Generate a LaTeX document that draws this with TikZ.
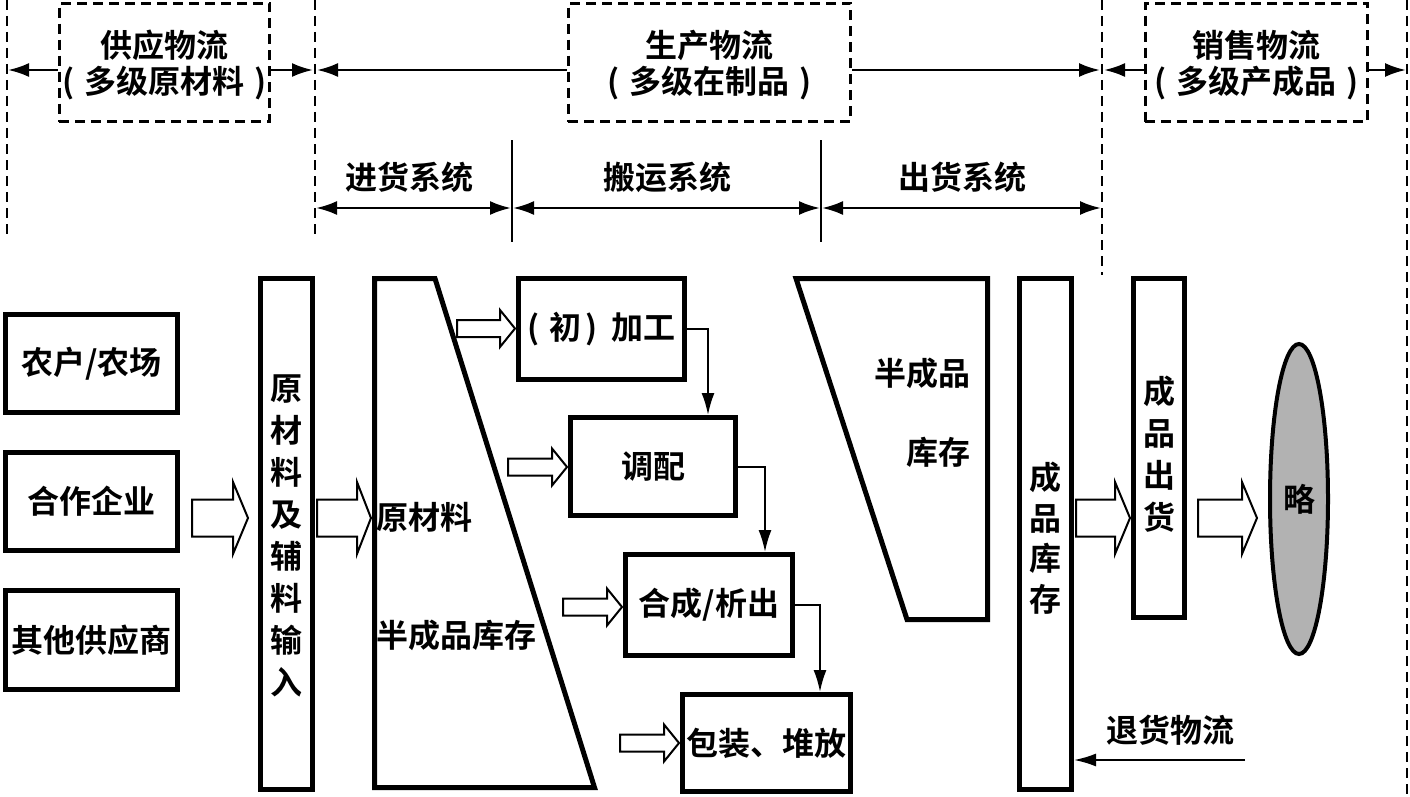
\documentclass[tikz,border=0pt]{standalone}
\usepackage{fontspec}
\newfontfamily\cjk{Noto Sans CJK SC}[BoldFont={Noto Sans CJK SC Bold}]
\usetikzlibrary{arrows.meta,calc,shapes.geometric}
\newcommand\blockarrow[6]{%
  \draw[hollow] (#1,#3-#4) -- (#2-#6,#3-#4) -- (#2-#6,#3-#5) -- (#2,#3) -- (#2-#6,#3+#5) -- (#2-#6,#3+#4) -- (#1,#3+#4) -- cycle;}
\begin{document}
\begin{tikzpicture}[x=1pt,y=-1pt,
  every node/.style={font=\cjk\bfseries\fontsize{32}{42}\selectfont, inner sep=0pt},
  box/.style={draw, line width=5pt, line join=miter},
  dbox/.style={draw, line width=2.8pt, dash pattern=on 10pt off 6pt},
  dline/.style={line width=2.8pt, dash pattern=on 10pt off 6pt},
  arr/.style={line width=2.5pt, -{Latex[length=21pt,width=14pt]}},
  dim/.style={line width=2.5pt, {Latex[length=21pt,width=14pt]}-{Latex[length=21pt,width=14pt]}},
  thinarr/.style={line width=2pt, -{Latex[length=22pt,width=13pt]}},
  hollow/.style={draw, line width=2pt, fill=white, line join=miter},
  vtext/.style={align=center}]
\useasboundingbox (0,0) rectangle (1410,797);

% ---- top zone: dashed separators
\draw[dline] (7,0) -- (7,240);
\draw[dline] (315,0) -- (315,240);
\draw[dline] (1102,0) -- (1102,275);
\draw[dline] (1407,0) -- (1407,797);

% dashed boxes
\node[dbox, minimum width=210.5, minimum height=118.5] (sf) at (164.5,62.5) {};
\node[dbox, minimum width=282.5, minimum height=118.5] (pf) at (709.5,62.5) {};
\node[dbox, minimum width=222.5, minimum height=118.5] (xf) at (1256.5,62.5) {};
\node (sft1) at (164.5,45) {供应物流};
\node (sft2) at (164.5,83) {(\hspace{10pt}多级原材料\hspace{10pt})};
\node (pft1) at (709.5,45) {生产物流};
\node (pft2) at (709.5,83) {(\hspace{10pt}多级在制品\hspace{10pt})};
\node (xft1) at (1256.5,45) {销售物流};
\node (xft2) at (1256.5,83) {(\hspace{10pt}多级产成品\hspace{10pt})};

\coordinate (T0) at (8,70);
\coordinate (T1) at (313,70);
\coordinate (T2) at (317,70);
\coordinate (T3) at (1100,70);
\coordinate (T4) at (1104,70);
\coordinate (T5) at (1406,70);
\draw[arr] (sf.west |- T0) -- (T0);
\draw[arr] (sf.east |- T1) -- (T1);
\draw[arr] (pf.west |- T2) -- (T2);
\draw[arr] (pf.east |- T3) -- (T3);
\draw[arr] (xf.west |- T4) -- (T4);
\draw[arr] (xf.east |- T5) -- (T5);

% ---- second row: subsystems
\node (jh) at (409,177) {进货系统};
\node (by) at (667,177) {搬运系统};
\node (ch) at (962,177) {出货系统};
\draw[line width=2.5pt] (512,140) -- (512,242);
\draw[line width=2.5pt] (821,140) -- (821,242);
\coordinate (D0) at (316,208);
\coordinate (D1) at (511,208);
\coordinate (D2) at (513,208);
\coordinate (D3) at (820,208);
\coordinate (D4) at (822,208);
\coordinate (D5) at (1101,208);
\draw[dim] (D0) -- (D1);
\draw[dim] (D2) -- (D3);
\draw[dim] (D4) -- (D5);

% ---- bottom: suppliers
\node[box, minimum width=172, minimum height=98] (sup1) at (91.5,363.5) {农户/农场};
\node[box, minimum width=172, minimum height=98] (sup2) at (91.5,501.5) {合作企业};
\node[box, minimum width=172, minimum height=99] (sup3) at (91.5,640) {其他供应商};

\node[box, minimum width=52, minimum height=511] (inp) at (286.5,534) {};
\node[vtext] (inpt) at (286.5,536) {原\\材\\料\\及\\辅\\料\\输\\入};

% raw stock trapezoid
\draw[box] (374.5,278.5) -- (435,278.5) -- (594.5,787.5) -- (374.5,787.5) -- cycle;
\node[anchor=west] (rawt) at (376,517) {原材料};
\node[anchor=west] (semit) at (376,635) {半成品库存};

% process boxes
\node[box, minimum width=166, minimum height=101] (p1) at (601.5,329) {(\hspace{10pt}初\hspace{4pt})\hspace{14pt}加工};
\node[box, minimum width=165, minimum height=98] (p2) at (653,466.5) {调配};
\node[box, minimum width=167, minimum height=101] (p3) at (709,605) {合成/析出};
\node[box, minimum width=168, minimum height=97] (p4) at (766.5,743) {包装、堆放};

\draw[thinarr] (p1.east) -| ([xshift=-30pt]p2.north east);
\draw[thinarr] (p2.east) -| ([xshift=-30pt]p3.north east);
\draw[thinarr] (p3.east) -| ([xshift=-33pt]p4.north east);

% semi-finished stock trapezoid
\draw[box] (796,278.5) -- (987.5,278.5) -- (987.5,619.5) -- (907,619.5) -- cycle;
\node[anchor=east] (semi1) at (971,373) {半成品};
\node[anchor=east] (semi2) at (971,452) {库存};

% finished stock and shipping
\node[box, minimum width=52, minimum height=511] (fin) at (1045.5,534) {};
\node[vtext, font=\cjk\bfseries\fontsize{32}{40.5}\selectfont] (fint) at (1045.5,538) {成\\品\\库\\存};
\node[box, minimum width=51, minimum height=339] (ship) at (1159,448) {};
\node[vtext] (shipt) at (1159,454) {成\\品\\出\\货};

\node[draw, ellipse, line width=4pt, fill=black!30, minimum width=58, minimum height=310] (lue) at (1299,499) {略};

% block arrows
\blockarrow{192}{248}{518}{18.5}{36}{15}
\blockarrow{317}{371}{518}{18.5}{36}{14}
\blockarrow{1076}{1130}{518}{18.5}{36}{15}
\blockarrow{1198}{1257}{518}{18.5}{36}{15}
\blockarrow{457}{515}{328.5}{8.5}{18.5}{15}
\blockarrow{508}{567}{467}{8.5}{18.5}{15}
\blockarrow{563}{622}{607}{8.5}{18.5}{15}
\blockarrow{620}{679}{743}{8.5}{18.5}{15}

% returns
\node (ret) at (1170,730) {退货物流};
\coordinate (R0) at (1245,760);
\draw[thinarr] (R0) -- (fin.east |- R0);
\end{tikzpicture}
\end{document}
